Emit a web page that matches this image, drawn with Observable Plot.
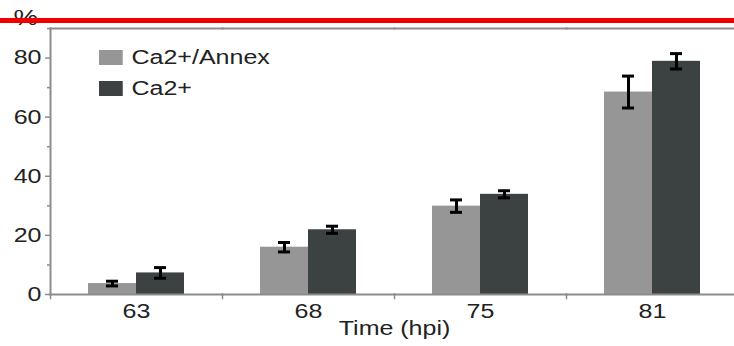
<!DOCTYPE html>
<html><head><meta charset="utf-8">
<script src="https://cdn.jsdelivr.net/npm/d3@7"></script>
<script src="https://cdn.jsdelivr.net/npm/@observablehq/plot@0.6"></script>
<style>
html,body{margin:0;padding:0;background:#fff;overflow:hidden;}
#wrap{position:relative;width:734px;height:346px;font-family:"Liberation Sans",Arial,sans-serif;}
#wrap svg{display:block;}
#redline{position:absolute;left:0;top:18px;width:734px;height:5px;background:#f20000;}
#legend{position:absolute;left:99px;top:42px;transform:scaleX(1.25);transform-origin:0 0;}
#legend .lg-swatch{display:flex;align-items:center;height:31px;padding:0 !important;margin:0 !important;}
#legend .lg-swatch svg{margin-right:7px !important;}
#legend .lg-swatch-label{overflow:visible !important;}
</style></head><body><div id="wrap"></div>
<script>
const times = [63, 68, 75, 81];
const seriesNames = ["Ca2+/Annex", "Ca2+"];
const annexValues = [3.7, 16.0, 29.9, 68.5];
const annexErrors = [0.8, 1.6, 2.1, 5.4];
const caValues = [7.3, 21.9, 33.9, 78.9];
const caErrors = [1.8, 1.2, 1.2, 2.6];
const colors = ["#969696", "#3c4141"];
const yTicks = [0, 20, 40, 60, 80];
const yMinorTicks = [10, 30, 50, 70, 90];
const yLabel = "%";
const xLabel = "Time (hpi)";

const data = times.flatMap((t, i) => [
  {time: t, series: seriesNames[0], value: annexValues[i], err: annexErrors[i]},
  {time: t, series: seriesNames[1], value: caValues[i], err: caErrors[i]}
]);

const axisColor = "#8c8c8c";
const font = "'Liberation Sans', Arial, sans-serif";

const chart = Plot.plot({
  width: 734, height: 346,
  marginTop: 28, marginBottom: 52, marginLeft: 48, marginRight: -5,
  style: {fontFamily: font, fontSize: "20px", color: "#222", background: "white", overflow: "visible"},
  fx: {domain: times, padding: 0, label: xLabel},
  x: {domain: seriesNames, paddingInner: 0, paddingOuter: 0.763, axis: null},
  y: {domain: [0, 90], label: yLabel},
  color: {domain: seriesNames, range: colors},
  marks: [
    Plot.barY(data, {fx: "time", x: "series", y: "value", fill: "series"}),
    Plot.ruleX(data, {fx: "time", x: "series", y1: d => d.value - d.err, y2: d => d.value + d.err, stroke: "#000", strokeWidth: 3}),
    Plot.tickY(data, {fx: "time", x: "series", y: d => d.value - d.err, insetLeft: 18, insetRight: 18, stroke: "#000", strokeWidth: 3}),
    Plot.tickY(data, {fx: "time", x: "series", y: d => d.value + d.err, insetLeft: 18, insetRight: 18, stroke: "#000", strokeWidth: 3}),
    Plot.frame({anchor: "top", stroke: axisColor, strokeWidth: 2}),
    Plot.frame({anchor: "bottom", stroke: axisColor, strokeWidth: 2}),
    Plot.frame({anchor: "left", facetAnchor: "left", stroke: axisColor, strokeWidth: 2}),
    Plot.frame({anchor: "left", insetTop: 266, insetBottom: -4, stroke: axisColor, strokeWidth: 1.5}),
    Plot.axisY({ticks: yTicks, tickSize: 5, tickPadding: 4, stroke: axisColor, strokeWidth: 1.5, label: yLabel, labelAnchor: "top", labelArrow: "none", labelOffset: 37}),
    Plot.axisY({ticks: yMinorTicks, tickSize: 3, tickFormat: () => "", stroke: axisColor, strokeWidth: 1.5, label: null}),
    Plot.axisFx({anchor: "bottom", tickSize: 0, tickPadding: 9, label: xLabel, labelAnchor: "center", labelArrow: "none", labelOffset: 40})
  ]
});

chart.querySelectorAll("text").forEach(t => {
  let tr = t.getAttribute("transform") || "";
  if (t.textContent === yLabel) {
    t.style.fontSize = "22px";
    tr = "translate(0,6) " + tr;
  }
  t.setAttribute("transform", (tr + " scale(1.25,1)").trim());
});

const wrap = document.getElementById("wrap");
wrap.appendChild(chart);

const legend = Plot.legend({
  color: {domain: seriesNames, range: colors},
  legend: "swatches", columns: 1, swatchWidth: 19, swatchHeight: 15, className: "lg",
  style: {fontFamily: font, fontSize: "20px", color: "#222"}
});
const lg = document.createElement("div");
lg.id = "legend";
lg.appendChild(legend);
wrap.appendChild(lg);

const red = document.createElement("div");
red.id = "redline";
wrap.appendChild(red);
</script>
</body></html>
